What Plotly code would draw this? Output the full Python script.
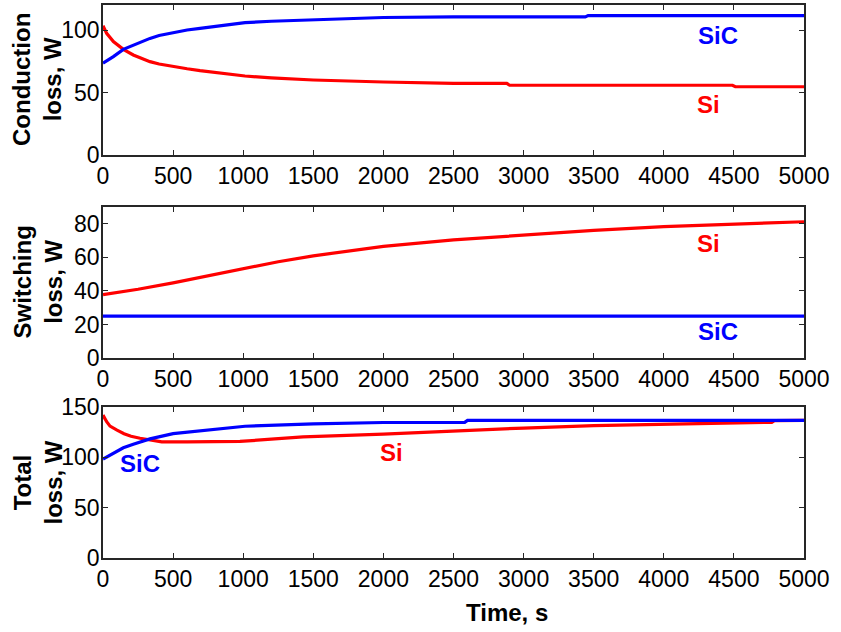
import plotly.graph_objects as go
from plotly.subplots import make_subplots

# ---------------- data ----------------
cond_sic_t = [0, 74, 145, 216, 335, 400, 500, 600, 692, 800, 1013, 1200, 1500, 1700, 2000, 2500, 3440, 3460, 5000]
cond_sic_v = [73.5, 78.7, 84.5, 88, 93.3, 95.6, 98.1, 100, 101.3, 103, 105.9, 107, 108, 109, 110, 110.5, 110.5, 111.5, 111.5]

cond_si_t = [0, 10, 26, 74, 145, 216, 335, 400, 502, 600, 692, 800, 1013, 1200, 1500, 2000, 2500, 2880, 2900, 4490, 4510, 5000]
cond_si_v = [103.5, 100.5, 97.3, 90.7, 84.5, 80, 74.7, 72.8, 70.7, 69, 67.5, 65.9, 63.2, 61.7, 60, 58.4, 57.3, 57.3, 55.8, 55.8, 54.6, 54.6]

sw_si_t = [0, 250, 500, 750, 1000, 1250, 1500, 2000, 2500, 3000, 3500, 4000, 4500, 5000]
sw_si_v = [37.8, 41, 44.8, 49, 53.4, 57.4, 60.9, 66.5, 70.4, 73.4, 76.1, 78.3, 79.9, 81.2]

sw_sic_t = [0, 5000]
sw_sic_v = [25, 25]

tot_sic_t = [0, 74, 145, 216, 335, 500, 692, 1013, 1500, 2000, 2580, 2600, 5000]
tot_sic_v = [98.3, 103.7, 109.5, 113, 118.3, 123.5, 126.5, 130.9, 133.3, 134.6, 134.8, 136.7, 136.8]

tot_si_t = [0, 26, 50, 74, 100, 150, 200, 264, 300, 419, 600, 977, 1200, 1427, 2000, 2500, 3000, 3500, 4000, 4500, 4770, 4790, 5000]
tot_si_v = [142, 135.4, 131, 128.8, 127, 123.5, 121, 119, 118, 115.3, 115.3, 115.8, 118, 120.3, 123, 126.4, 129.1, 131.4, 133, 134.4, 134.8, 136.4, 136.8]

x_ticks = [0, 500, 1000, 1500, 2000, 2500, 3000, 3500, 4000, 4500, 5000]
y1_ticks = [0, 50, 100]
y2_ticks = [0, 20, 40, 60, 80]
y3_ticks = [0, 50, 100, 150]

RED = "#ff0000"
BLUE = "#0000ff"
FONT = "Liberation Sans, Arial, sans-serif"
AXC = "#262626"

fig = make_subplots(rows=3, cols=1)

def line(t, v, color, row):
    fig.add_trace(go.Scatter(x=t, y=v, mode="lines",
                             line=dict(color=color, width=3.2),
                             showlegend=False, hoverinfo="skip"), row=row, col=1)

line(cond_si_t, cond_si_v, RED, 1)
line(cond_sic_t, cond_sic_v, BLUE, 1)
line(sw_sic_t, sw_sic_v, BLUE, 2)
line(sw_si_t, sw_si_v, RED, 2)
line(tot_si_t, tot_si_v, RED, 3)
line(tot_sic_t, tot_sic_v, BLUE, 3)

# geometry (pixels): plot left 103, right 804; bottom margin 74, top 5
W, H = 841, 632
ml, mr, mt, mb = 103, 37, 5, 74
ph = H - mt - mb

def dom(top_px, bot_px):
    return [(H - mb - bot_px) / ph, (H - mb - top_px) / ph]

doms = [dom(5, 155), dom(207, 358), dom(407, 558)]
yranges = [[0, 120], [0, 90], [0, 150]]
yticks = [y1_ticks, y2_ticks, y3_ticks]

axis_common = dict(
    showline=True, linecolor=AXC, linewidth=1.6, mirror="ticks",
    ticks="inside", ticklen=5, tickwidth=1.2, tickcolor=AXC,
    showgrid=False, zeroline=False, automargin=False,
    tickfont=dict(family=FONT, size=23, color="black"),
)

for i in range(3):
    xa = "xaxis" if i == 0 else f"xaxis{i+1}"
    ya = "yaxis" if i == 0 else f"yaxis{i+1}"
    fig.layout[xa].update(range=[0, 5000], tickvals=x_ticks,
                          ticktext=[str(v) for v in x_ticks], **axis_common)
    fig.layout[ya].update(range=yranges[i], domain=doms[i], tickvals=yticks[i],
                          ticktext=[str(v) for v in yticks[i]],
                          ticklabelstandoff=-3, **axis_common)

annotations = []
# y-axis titles
titles = ["Conduction<br>loss, W", "Switching<br>loss, W", "Total<br>loss, W"]
for i, t in enumerate(titles):
    annotations.append(dict(
        text=t, textangle=-90, xref="paper", yref="paper",
        x=(37 - ml) / (W - ml - mr), y=sum(doms[i]) / 2,
        xanchor="center", yanchor="middle", showarrow=False,
        font=dict(family=FONT, size=24, color="black", weight="bold"),
    ))
# x-axis title
annotations.append(dict(
    text="Time, s", xref="paper", yref="paper",
    x=(507 - ml) / (W - ml - mr), y=-(612 - (H - mb)) / ph,
    xanchor="center", yanchor="middle", showarrow=False,
    font=dict(family=FONT, size=24, color="black", weight="bold"),
))

# curve labels
labels = [
    ("SiC", 4387, 96, "x", "y", BLUE),
    ("Si", 4322, 40.8, "x", "y", RED),
    ("Si", 4322, 68.5, "x2", "y2", RED),
    ("SiC", 4387, 15.5, "x2", "y2", BLUE),
    ("SiC", 264, 93.4, "x3", "y3", BLUE),
    ("Si", 2061, 105.3, "x3", "y3", RED),
]
for txt, x, y, xr, yr, c in labels:
    annotations.append(dict(
        text=txt, x=x, y=y, xref=xr, yref=yr, showarrow=False,
        xanchor="center", yanchor="middle",
        font=dict(family=FONT, size=24, color=c, weight="bold"),
    ))

fig.update_layout(
    width=W, height=H,
    margin=dict(l=ml, r=mr, t=mt, b=mb, autoexpand=False),
    paper_bgcolor="white", plot_bgcolor="white",
    annotations=annotations,
    showlegend=False,
)

fig.write_html("out.html")
